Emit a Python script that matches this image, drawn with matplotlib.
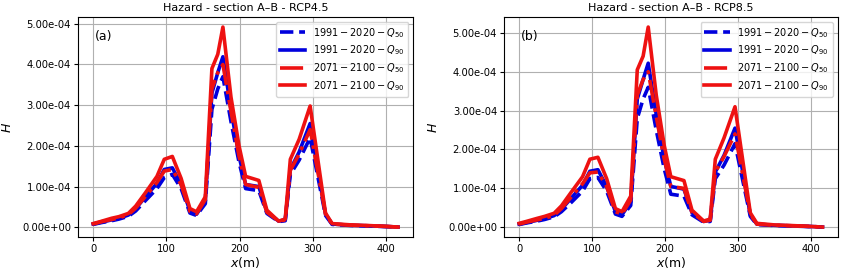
import matplotlib
matplotlib.use("Agg")
import matplotlib.pyplot as plt
from matplotlib.ticker import FormatStrFormatter

# distance along section A-B (m)
x_m = [0, 10, 25, 35, 48, 58, 71, 87, 97, 108, 120, 132, 141, 153, 162, 170, 177,
       188, 199, 208, 226, 237, 253, 262, 269, 281, 296, 317, 326, 350, 378, 400, 416]

# panel (a) RCP4.5
a_hist_q50 = [7e-6, 1.1e-5, 1.6e-5, 2.0e-5, 2.7e-5, 4.0e-5, 6.5e-5, 9.5e-5, 1.22e-4, 1.30e-4, 9.5e-5,
              3.5e-5, 2.9e-5, 5.8e-5, 2.9e-4, 3.4e-4, 3.7e-4, 2.6e-4, 1.6e-4, 9.5e-5, 9.0e-5, 3.4e-5,
              1.4e-5, 1.6e-5, 1.3e-4, 1.65e-4, 2.2e-4, 2.9e-5, 7e-6, 4.5e-6, 3e-6, 1.5e-6, 0.5e-6]
a_hist_q90 = [8e-6, 1.2e-5, 1.8e-5, 2.2e-5, 3.0e-5, 4.6e-5, 7.4e-5, 1.08e-4, 1.42e-4, 1.46e-4, 1.05e-4,
              4.0e-5, 3.2e-5, 6.5e-5, 3.3e-4, 3.8e-4, 4.19e-4, 2.9e-4, 1.75e-4, 1.05e-4, 1.0e-4, 3.8e-5,
              1.5e-5, 1.8e-5, 1.42e-4, 1.85e-4, 2.55e-4, 3.2e-5, 8e-6, 5e-6, 3.5e-6, 2e-6, 0.5e-6]
a_fut_q50 = [8e-6, 1.3e-5, 1.9e-5, 2.3e-5, 3.1e-5, 4.7e-5, 7.5e-5, 1.1e-4, 1.38e-4, 1.42e-4, 1.05e-4,
             3.9e-5, 3.3e-5, 6.8e-5, 3.4e-4, 3.8e-4, 4.0e-4, 2.85e-4, 1.75e-4, 1.05e-4, 9.8e-5, 3.7e-5,
             1.5e-5, 1.8e-5, 1.4e-4, 1.8e-4, 2.4e-4, 3.2e-5, 8e-6, 5e-6, 3.5e-6, 2e-6, 0.5e-6]
a_fut_q90 = [9e-6, 1.4e-5, 2.2e-5, 2.6e-5, 3.4e-5, 5.2e-5, 8.4e-5, 1.25e-4, 1.67e-4, 1.74e-4, 1.2e-4,
             4.6e-5, 3.8e-5, 7.5e-5, 3.9e-4, 4.25e-4, 4.92e-4, 3.2e-4, 2.0e-4, 1.25e-4, 1.15e-4, 4.2e-5,
             1.5e-5, 2.0e-5, 1.67e-4, 2.16e-4, 2.98e-4, 3.5e-5, 9e-6, 6e-6, 4e-6, 2e-6, 0.5e-6]

# panel (b) RCP8.5
b_hist_q50 = [7e-6, 1.1e-5, 1.6e-5, 2.0e-5, 2.7e-5, 4.0e-5, 6.3e-5, 9.3e-5, 1.25e-4, 1.28e-4, 9.3e-5,
              3.4e-5, 2.8e-5, 5.6e-5, 2.8e-4, 3.3e-4, 3.6e-4, 2.5e-4, 1.5e-4, 8.5e-5, 8.0e-5, 3.2e-5,
              1.3e-5, 1.5e-5, 1.25e-4, 1.6e-4, 2.15e-4, 2.8e-5, 7e-6, 4.5e-6, 3e-6, 1.5e-6, 0.5e-6]
b_hist_q90 = [8e-6, 1.2e-5, 1.8e-5, 2.2e-5, 3.0e-5, 4.6e-5, 7.4e-5, 1.08e-4, 1.44e-4, 1.48e-4, 1.05e-4,
              4.0e-5, 3.2e-5, 6.5e-5, 3.3e-4, 3.8e-4, 4.22e-4, 2.9e-4, 1.75e-4, 1.05e-4, 9.8e-5, 3.8e-5,
              1.5e-5, 1.8e-5, 1.42e-4, 1.85e-4, 2.55e-4, 3.2e-5, 8e-6, 5e-6, 3.5e-6, 2e-6, 0.5e-6]
b_fut_q50 = [8e-6, 1.3e-5, 1.9e-5, 2.3e-5, 3.1e-5, 4.8e-5, 7.7e-5, 1.12e-4, 1.40e-4, 1.42e-4, 1.05e-4,
             4.0e-5, 3.4e-5, 7.0e-5, 3.4e-4, 3.8e-4, 4.0e-4, 2.85e-4, 1.75e-4, 1.05e-4, 1.0e-4, 3.8e-5,
             1.5e-5, 1.8e-5, 1.42e-4, 1.82e-4, 2.4e-4, 3.3e-5, 8e-6, 5e-6, 3.5e-6, 2e-6, 0.5e-6]
b_fut_q90 = [1.0e-5, 1.5e-5, 2.3e-5, 2.8e-5, 3.6e-5, 5.5e-5, 8.9e-5, 1.3e-4, 1.75e-4, 1.80e-4, 1.25e-4,
             4.8e-5, 4.0e-5, 8.0e-5, 4.05e-4, 4.4e-4, 5.15e-4, 3.4e-4, 2.1e-4, 1.3e-4, 1.2e-4, 4.4e-5,
             1.6e-5, 2.1e-5, 1.75e-4, 2.3e-4, 3.1e-4, 3.7e-5, 1.0e-5, 6e-6, 4e-6, 2e-6, 0.5e-6]

titles = ["Hazard - section A\u2013B - RCP4.5", "Hazard - section A\u2013B - RCP8.5"]
panel_tags = ["(a)", "(b)"]
series_labels = [r"$1991-2020-Q_{50}$", r"$1991-2020-Q_{90}$",
                 r"$2071-2100-Q_{50}$", r"$2071-2100-Q_{90}$"]

panels = [
    [a_hist_q50, a_hist_q90, a_fut_q50, a_fut_q90],
    [b_hist_q50, b_hist_q90, b_fut_q50, b_fut_q90],
]
styles = [("#0000dd", "--"), ("#0000dd", "-"), ("#ee1111", "-."), ("#ee1111", "-")]

fig = plt.figure(figsize=(8.47, 2.75), dpi=100)
positions = [[0.092, 0.138, 0.396, 0.80], [0.595, 0.138, 0.394, 0.80]]

for i, series in enumerate(panels):
    ax = fig.add_axes(positions[i])
    for values, (color, ls), label in zip(series, styles, series_labels):
        ax.plot(x_m, values, color=color, linestyle=ls, linewidth=2.6, label=label)
    ax.grid(True, color="#b0b0b0", linewidth=0.8)
    ax.set_title(titles[i], fontsize=8, pad=4)
    ax.set_xlabel(r"$x$(m)", fontsize=9, labelpad=1)
    ax.set_ylabel(r"$H$", fontsize=9, labelpad=6)
    ax.yaxis.set_major_formatter(FormatStrFormatter("%.2e"))
    ax.tick_params(labelsize=7.2, length=3, pad=2)
    ax.set_xticks([0, 100, 200, 300, 400])
    ax.text(0.05, 0.91, panel_tags[i], transform=ax.transAxes, fontsize=9, va="center")
    ax.legend(loc="upper right", fontsize=7, handlelength=2.6, borderaxespad=0.5,
              labelspacing=0.4, framealpha=0.8)

fig.savefig("out.png", dpi=100)
